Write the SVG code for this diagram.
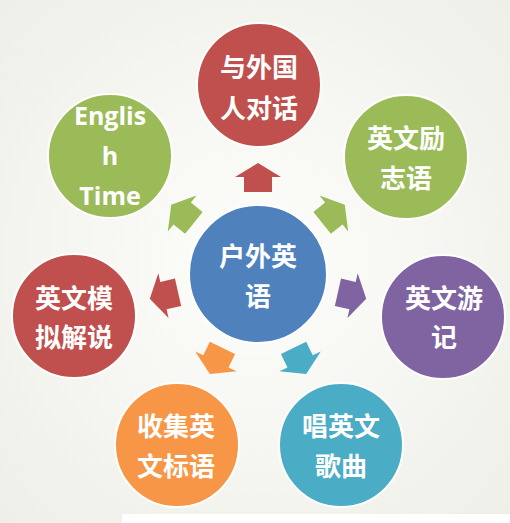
<svg xmlns="http://www.w3.org/2000/svg" width="510" height="523" viewBox="0 0 510 523">
<defs>
<radialGradient id="bg" cx="50%" cy="50%" r="70%">
<stop offset="0" stop-color="#fdfdfb"/>
<stop offset="1" stop-color="#efefe9"/>
</radialGradient>
<path id="arr" d="M0,-111 L23,-97 L14,-97 L14,-82 L-14,-82 L-14,-97 L-23,-97 Z"/>
</defs>
<style>
.n{stroke:#ffffff;stroke-width:2}
.t{font-family:"Noto Sans CJK SC","Noto Sans",sans-serif;font-weight:bold;font-size:26px;fill:#ffffff;text-anchor:middle}
.e{font-family:"Open Sans","Noto Sans",sans-serif;font-weight:bold;font-size:25px;fill:#ffffff;text-anchor:middle}
</style>
<rect width="510" height="523" fill="url(#bg)"/>
<rect x="122" y="514" width="388" height="9" fill="#ffffff"/>
<g id="connectors">
<use href="#arr" transform="translate(258,274) rotate(0)" fill="#c0504d"/>
<use href="#arr" transform="translate(258,274) rotate(51.43)" fill="#9bbb59"/>
<use href="#arr" transform="translate(258,274) rotate(102.86)" fill="#8064a2"/>
<use href="#arr" transform="translate(258,274) rotate(154.29)" fill="#4bacc6"/>
<use href="#arr" transform="translate(258,274) rotate(205.71)" fill="#f79646"/>
<use href="#arr" transform="translate(258,274) rotate(257.14)" fill="#c0504d"/>
<use href="#arr" transform="translate(258,274) rotate(308.57)" fill="#9bbb59"/>
</g>
<g id="center">
<circle class="n" cx="258" cy="274" r="69" fill="#4f81bd"/>
<text class="t" x="258" y="266">户外英</text>
<text class="t" x="258" y="306">语</text>
</g>
<g id="n1">
<circle class="n" cx="259" cy="85" r="62" fill="#c0504d"/>
<text class="t" x="259" y="77">与外国</text>
<text class="t" x="259" y="118">人对话</text>
</g>
<g id="n2">
<circle class="n" cx="406" cy="157" r="62" fill="#9bbb59"/>
<text class="t" x="406" y="148">英文励</text>
<text class="t" x="406" y="188">志语</text>
</g>
<g id="n3">
<circle class="n" cx="443" cy="317" r="62" fill="#8064a2"/>
<text class="t" x="444" y="308">英文游</text>
<text class="t" x="444" y="347">记</text>
</g>
<g id="n4">
<circle class="n" cx="341" cy="445" r="62" fill="#4bacc6"/>
<text class="t" x="341" y="436">唱英文</text>
<text class="t" x="341" y="476">歌曲</text>
</g>
<g id="n5">
<circle class="n" cx="177" cy="445" r="62" fill="#f79646"/>
<text class="t" x="176" y="436">收集英</text>
<text class="t" x="176" y="476">文标语</text>
</g>
<g id="n6">
<circle class="n" cx="74" cy="316" r="62" fill="#c0504d"/>
<text class="t" x="74" y="308">英文模</text>
<text class="t" x="74" y="347">拟解说</text>
</g>
<g id="n7">
<circle class="n" cx="110" cy="156" r="62" fill="#9bbb59"/>
<text class="e" x="110" y="125">Englis</text>
<text class="e" x="110" y="165">h</text>
<text class="e" x="110" y="205">Time</text>
</g>
</svg>
